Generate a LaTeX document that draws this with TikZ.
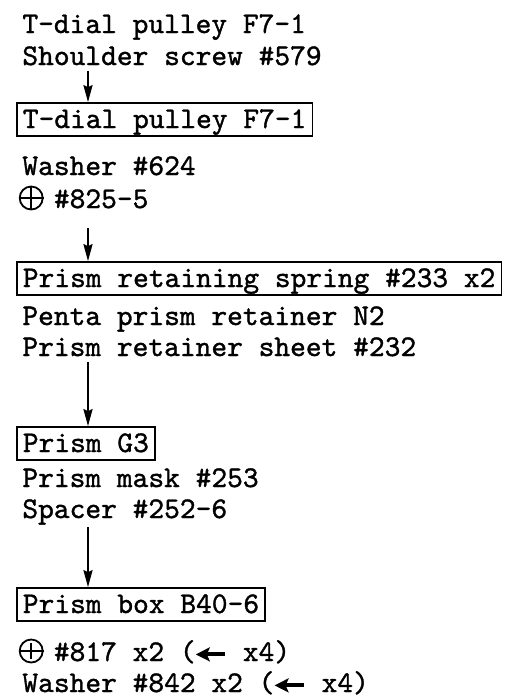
\documentclass[tikz,border=0pt]{standalone}
\usepackage{fontspec}
\setmonofont{lmmono10-regular.otf}[FakeBold=1.2]
\usepackage{tikz}
\usetikzlibrary{arrows.meta, positioning}

\begin{document}
\begin{tikzpicture}[
    x=0.5pt, y=-0.5pt,
    font=\fontsize{15}{16}\selectfont\ttfamily,
    part/.style={
        anchor=base west, 
        inner sep=0pt, 
        text height=11.5pt, 
        text depth=3pt
    },
    assy/.style={
        draw, 
        line width=0.85pt, 
        anchor=base west, 
        inner xsep=3pt, 
        inner ysep=1pt, 
        text height=11.5pt, 
        text depth=3pt
    },
    screwmark/.style={
        circle, 
        draw, 
        line width=0.9pt, 
        minimum size=11.5pt, 
        inner sep=0pt
    },
    flow/.style={
        line width=1.1pt, 
        -{Stealth[length=8.5pt, width=4.5pt, inset=1pt]}
    },
    backflow/.style={
        line width=2pt, 
        -{Stealth[length=7pt, width=7pt, inset=1.5pt]}
    }
]
    \useasboundingbox (0,0) rectangle (507,698);

    % =========================================================
    % ASSEMBLY STEPS, TOP TO BOTTOM
    % =========================================================
    \node [part] (pulleypart) at (22,33) {T-dial pulley F7-1};
    \node [part] (shoulder) at (22,65) {Shoulder screw \#579};

    \node [assy] (pulley) at (16,128) {T-dial pulley F7-1};

    \node [part] (washer) at (22,175) {Washer \#624};
    \node [part] (screw) at (22,208) {\hspace*{1.05em}\#825-5};

    \node [assy] (spring) at (16,287) {Prism retaining spring \#233 x2};
    \node [part] (penta) at (22,325) {Penta prism retainer N2};
    \node [part] (sheet) at (22,356) {Prism retainer sheet \#232};

    \node [assy] (prism) at (16,452) {Prism G3};
    \node [part] (mask) at (22,487) {Prism mask \#253};
    \node [part] (spacer) at (22,518) {Spacer \#252-6};

    \node [assy] (prismbox) at (16,613) {Prism box B40-6};

    \node [part] (boxscrew) at (22,661) {\hspace*{1.05em}\#817 x2 (\hspace*{1.05em} x4)};
    \node [part] (boxwasher) at (22,692) {Washer \#842 x2 (\hspace*{1.05em} x4)};

    % screw marks in front of the part numbers
    \node [screwmark] (screwmk) at ([xshift=4.6pt, yshift=5pt]screw.base west) {};
    \node [screwmark] (boxscrewmk) at ([xshift=4.6pt, yshift=5pt]boxscrew.base west) {};
    \draw [line width=0.9pt, shorten <=2pt, shorten >=2pt] 
        (screwmk.west) -- (screwmk.east) (screwmk.north) -- (screwmk.south)
        (boxscrewmk.west) -- (boxscrewmk.east) (boxscrewmk.north) -- (boxscrewmk.south);

    % back arrows (x4)
    \draw [backflow] ([xshift=101.6pt, yshift=3.3pt]boxscrew.base west) -- ++(-14.7pt,0pt);
    \draw [backflow] ([xshift=141pt, yshift=3.3pt]boxwasher.base west) -- ++(-14.7pt,0pt);

    % =========================================================
    % FLOW ARROWS
    % =========================================================
    \coordinate (axis) at (88,0);
    \draw [flow] (shoulder.south -| axis) -- (pulley.north -| axis);
    \draw [flow, shorten <=7pt] (screw.south -| axis) -- (spring.north -| axis);
    \draw [flow] (sheet.south -| axis) -- (prism.north -| axis);
    \draw [flow, shorten <=1.5pt] (spacer.south -| axis) -- (prismbox.north -| axis);

\end{tikzpicture}
\end{document}
